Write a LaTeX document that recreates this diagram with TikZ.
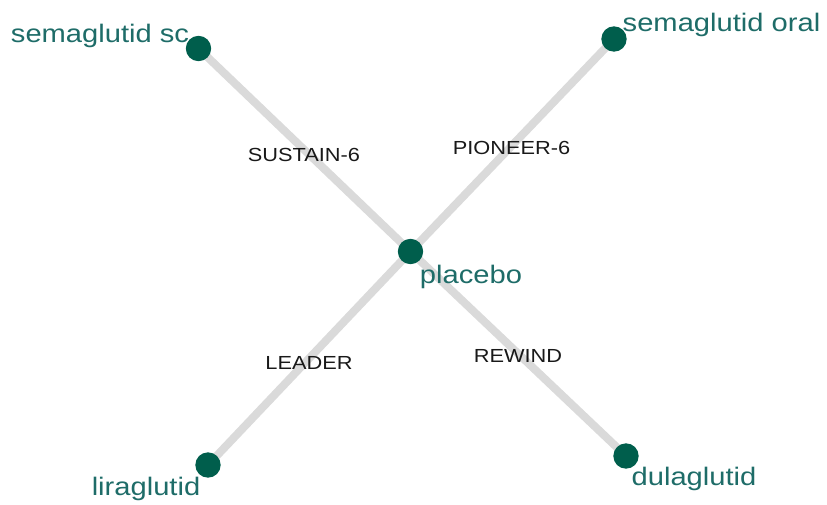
\documentclass[tikz,border=0pt]{standalone}
\usepackage{fontspec}
\usetikzlibrary{backgrounds}
\setmainfont{Liberation Sans}
\newfontfamily\netfont[FakeStretch=1.15]{Liberation Sans}
\definecolor{dotgreen}{RGB}{0,94,76}
\definecolor{labteal}{RGB}{30,108,104}
\definecolor{edgegray}{RGB}{218,218,218}
\tikzset{
    trt/.style = {circle, fill = dotgreen, minimum size = 19pt, inner sep = 0pt},
    trtname/.style = {text = labteal, font = \netfont\fontsize{19}{21}\selectfont, inner sep = 0pt},
    trial/.style = {line width = 6pt, draw = edgegray},
    trialname/.style = {text = black!90, font = \netfont\fontsize{14.2}{16}\selectfont, inner sep = 0pt}
}
\begin{document}
\begin{tikzpicture}[x = 0.75pt, y = -0.75pt]
        \useasboundingbox (0, 0) rectangle (827, 504);
        \node [trt] (semsc) at (198.5, 48.5) {};
        \node [trt] (semoral) at (614, 39) {};
        \node [trt] (placebo) at (410.5, 251.5) {};
        \node [trt] (lira) at (208, 465) {};
        \node [trt] (dula) at (626, 456) {};
        \begin{scope}[on background layer]
            \draw [trial] (semsc.center) -- (placebo.center);
            \draw [trial] (semoral.center) -- (placebo.center);
            \draw [trial] (lira.center) -- (placebo.center);
            \draw [trial] (dula.center) -- (placebo.center);
        \end{scope}
        \node [trialname] (sustain) at (304, 155) {SUSTAIN-6};
        \node [trialname] (pioneer) at (511.5, 148) {PIONEER-6};
        \node [trialname] (leader) at (309, 363) {LEADER};
        \node [trialname] (rewind) at (518, 356) {REWIND};
        \node [trtname] (semsclab) at (100, 36) {semaglutid sc};
        \node [trtname] (semorallab) at (721.5, 25) {semaglutid oral};
        \node [trtname] (placebolab) at (471, 277) {placebo};
        \node [trtname] (liralab) at (146, 489) {liraglutid};
        \node [trtname] (dulalab) at (694, 479) {dulaglutid};
    \end{tikzpicture}
\end{document}
